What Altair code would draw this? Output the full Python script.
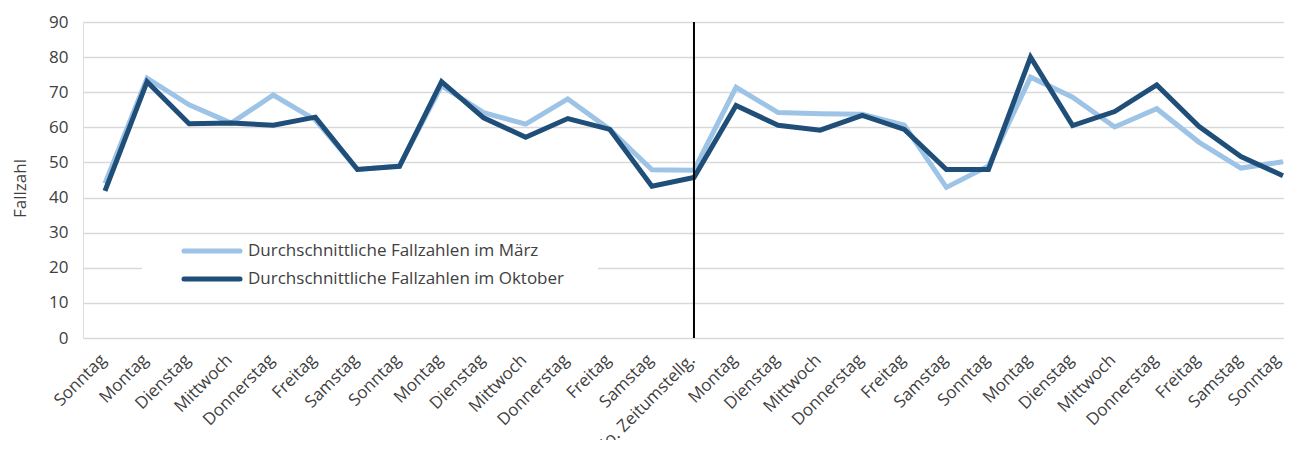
import json
import altair as alt
import pandas as pd

days = ["Sonntag", "Montag", "Dienstag", "Mittwoch", "Donnerstag", "Freitag", "Samstag",
        "Sonntag", "Montag", "Dienstag", "Mittwoch", "Donnerstag", "Freitag", "Samstag",
        "So. Zeitumstellg.", "Montag", "Dienstag", "Mittwoch", "Donnerstag", "Freitag", "Samstag",
        "Sonntag", "Montag", "Dienstag", "Mittwoch", "Donnerstag", "Freitag", "Samstag", "Sonntag"]
maerz = [44, 74, 66.4, 61.2, 69.2, 62.1, 48, 49, 71.9, 64.2, 60.9, 68.1, 59.4, 47.9, 47.8,
         71.4, 64.2, 63.9, 63.7, 60.6, 42.9, 49, 74.3, 68.6, 60.1, 65.3, 55.8, 48.4, 50.2]
oktober = [41.9, 73, 61, 61.2, 60.6, 62.9, 48, 48.9, 73, 62.7, 57.2, 62.5, 59.4, 43.2, 45.7,
           66.2, 60.6, 59.2, 63.4, 59.4, 48, 48, 80, 60.5, 64.5, 72.1, 60.3, 51.7, 46.2]
series_names = ["Durchschnittliche Fallzahlen im März", "Durchschnittliche Fallzahlen im Oktober"]
series_colors = ["#9DC3E6", "#1F4E79"]
marker_index = 14
y_ticks = [0, 10, 20, 30, 40, 50, 60, 70, 80, 90]

FONT = "Open Sans"
TXT = "#404040"
FS = 17

idx = list(range(len(days)))
df_m = pd.DataFrame({"idx": idx, "wert": maerz})
df_o = pd.DataFrame({"idx": idx, "wert": oktober})
one = pd.DataFrame({"a": [0]})

W, H = 1201, 316
step = 42.07
x0 = -22 / step
x1 = (W - 22) / step

xscale = alt.Scale(domain=[x0, x1], nice=False, zero=False)
yscale = alt.Scale(domain=[0, 90], nice=False, zero=True)

label_expr = json.dumps(days, ensure_ascii=False) + "[datum.value]"
last_idx = len(days) - 1

xaxis = alt.Axis(values=idx, labelExpr=label_expr, labelAngle=-45, labelAlign="right",
                 labelBaseline="middle", labelPadding=19,
                 labelOffset={"condition": {"test": f"datum.value == {last_idx}", "value": -6},
                              "value": -2},
                 ticks=False, domain=False, grid=False, title=None, labelFont=FONT,
                 labelFontSize=FS, labelColor=TXT, labelOverlap=False, labelBound=False,
                 labelFlush=False)
yaxis = alt.Axis(values=y_ticks, tickCount=10, ticks=False, domain=False, grid=True,
                 gridColor="#d9d9d9", gridWidth=1.5, labelPadding=15, labelFont=FONT,
                 labelFontSize=FS, labelColor=TXT, labelOverlap=False, labelFlush=False,
                 labelBound=False, title="Fallzahl", titleFont=FONT,
                 titleFontSize=FS, titleFontWeight="normal", titleColor=TXT, titleX=-63,
                 titleY=166, titleAngle=-90, titleAlign="center", titleBaseline="middle", zindex=0)

line_m = alt.Chart(df_m).mark_line(color=series_colors[0], strokeWidth=5).encode(
    x=alt.X("idx:Q", scale=xscale, axis=xaxis),
    y=alt.Y("wert:Q", scale=yscale, axis=yaxis),
)
line_o = alt.Chart(df_o).mark_line(color=series_colors[1], strokeWidth=5).encode(
    x=alt.X("idx:Q", scale=xscale, axis=xaxis),
    y=alt.Y("wert:Q", scale=yscale, axis=yaxis),
)
vline = alt.Chart(one).mark_rule(color="black", strokeWidth=2).encode(
    x=alt.XDatum(marker_index, type="quantitative", scale=xscale, axis=xaxis),
    y=alt.YDatum(0, type="quantitative", scale=yscale, axis=yaxis),
    y2=alt.Y2Datum(90),
)
legend_bg = alt.Chart(one).mark_rect(fill="white").encode(
    x=alt.value(59), x2=alt.value(515), y=alt.value(216), y2=alt.value(276)
)
leg_layers = []
for i, (name, col) in enumerate(zip(series_names, series_colors)):
    yy = 229 + i * 28
    leg_layers.append(alt.Chart(one).mark_rule(color=col, strokeWidth=5, strokeCap="round").encode(
        x=alt.value(101), x2=alt.value(157), y=alt.value(yy)))
    leg_layers.append(alt.Chart(one).mark_text(align="left", baseline="middle", font=FONT,
                                               fontSize=FS, color=TXT).encode(
        x=alt.value(165), y=alt.value(yy), text=alt.value(name)))

chart = alt.layer(legend_bg, line_m, line_o, vline, *leg_layers).properties(
    width=W, height=H,
    autosize=alt.AutoSizeParams(type="none"),
    padding={"left": 75, "top": 14, "right": 0, "bottom": 102},
).configure_view(stroke=None).configure(background="white")

chart.save("out.html", embed_options={"renderer": "svg", "actions": False})
